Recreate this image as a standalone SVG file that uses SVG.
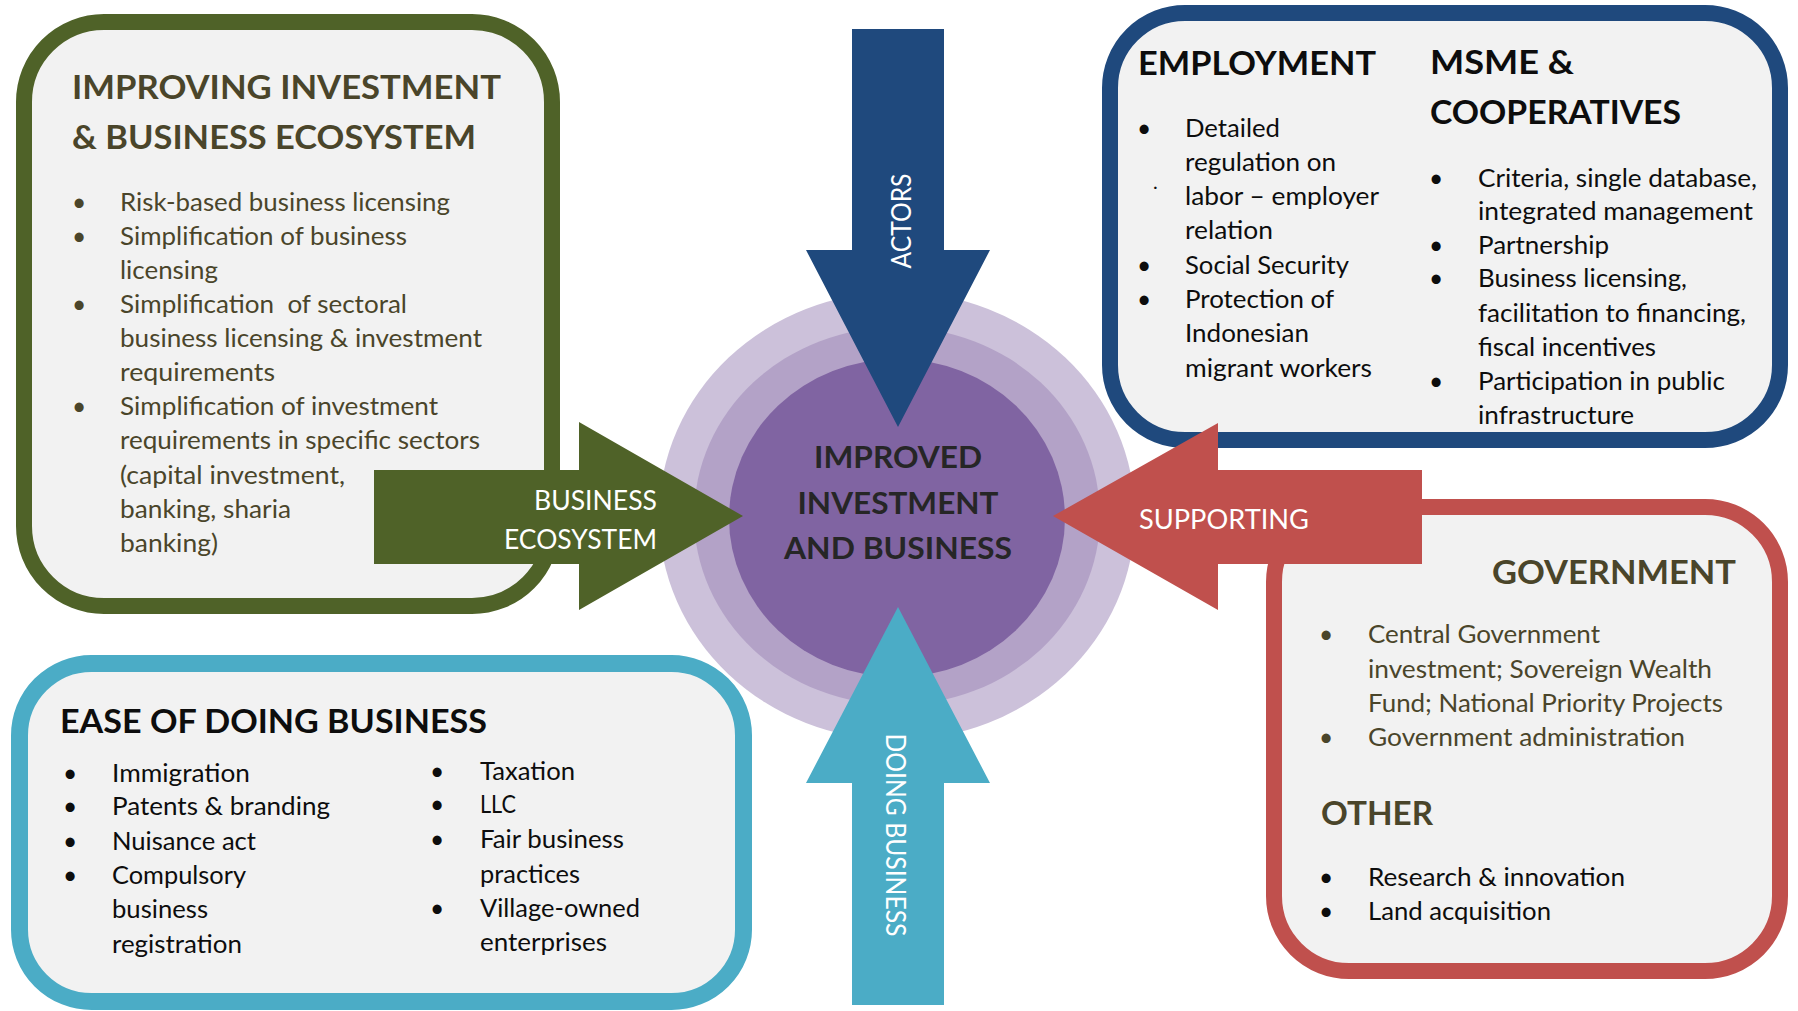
<svg xmlns="http://www.w3.org/2000/svg" width="1798" height="1011" viewBox="0 0 1798 1011">
<style>
text{font-family:Lato,"Open Sans","Liberation Sans",sans-serif}
.b{font-size:24.5px}
.h{font-size:33px;font-weight:700}
.ol{fill:#4A452A}
.bk{fill:#0D0D0D}
.w{fill:#FFFFFF;font-size:27px}
.box{fill:#F2F2F2}
.c{font-size:31px;font-weight:700;fill:#262626}
</style>
<g id="center">
<ellipse cx="897" cy="516" rx="238" ry="224" fill="#CCC1DA"/>
<ellipse cx="897" cy="516" rx="203" ry="189" fill="#B3A2C7"/>
<ellipse cx="897" cy="518" rx="168" ry="159" fill="#8064A2"/>
</g>
<g id="box-ecosystem">
<rect class="box" x="24" y="22" width="528" height="584" rx="80" stroke="#4F6228" stroke-width="16"/>
</g>
<g id="box-actors">
<rect class="box" x="1110" y="13" width="670" height="427" rx="75" stroke="#1F497D" stroke-width="16"/>
</g>
<g id="box-supporting">
<rect class="box" x="1274" y="507" width="506" height="464" rx="75" stroke="#C0504D" stroke-width="16"/>
</g>
<g id="box-doing">
<rect class="box" x="19.5" y="663.5" width="724" height="338" rx="72" stroke="#4BACC6" stroke-width="17"/>
</g>
<g id="connectors">
<polygon points="852,29 944,29 944,250 990,250 898,427 806,250 852,250" fill="#1F497D"/>
<polygon points="898,607 990,783 944,783 944,1005 852,1005 852,783 806,783" fill="#4BACC6"/>
<polygon points="374,470 579,470 579,422 743,516 579,610 579,564 374,564" fill="#4F6228"/>
<polygon points="1422,470 1218,470 1218,423 1053,516 1218,610 1218,564 1422,564" fill="#C0504D"/>
<text class="w" transform="translate(911,221) rotate(-90)" text-anchor="middle" textLength="95" lengthAdjust="spacingAndGlyphs">ACTORS</text>
<text class="w" transform="translate(886,835) rotate(90)" text-anchor="middle" textLength="203" lengthAdjust="spacingAndGlyphs">DOING BUSINESS</text>
<text class="w" x="534" y="510" textLength="123" lengthAdjust="spacingAndGlyphs">BUSINESS</text>
<text class="w" x="504" y="549" textLength="153" lengthAdjust="spacingAndGlyphs">ECOSYSTEM</text>
<text class="w" x="1139" y="529" textLength="170" lengthAdjust="spacingAndGlyphs">SUPPORTING</text>
</g>
<g id="center-label">
<text class="c" x="898" y="468" text-anchor="middle" textLength="168" lengthAdjust="spacingAndGlyphs">IMPROVED</text>
<text class="c" x="898" y="514" text-anchor="middle" textLength="201" lengthAdjust="spacingAndGlyphs">INVESTMENT</text>
<text class="c" x="898" y="559" text-anchor="middle" textLength="228" lengthAdjust="spacingAndGlyphs">AND BUSINESS</text>
</g>
<g id="text-ecosystem" class="ol">
<text class="h" x="72" y="99" textLength="429" lengthAdjust="spacingAndGlyphs">IMPROVING INVESTMENT</text>
<text class="h" x="72" y="149" textLength="404" lengthAdjust="spacingAndGlyphs">&amp; BUSINESS ECOSYSTEM</text>
<text class="b" x="72" y="211">•</text>
<text class="b" x="72" y="245">•</text>
<text class="b" x="72" y="313">•</text>
<text class="b" x="72" y="415">•</text>
<text class="b" x="120" y="211" textLength="330" lengthAdjust="spacingAndGlyphs">Risk-based business licensing</text>
<text class="b" x="120" y="245" textLength="287" lengthAdjust="spacingAndGlyphs">Simplification of business</text>
<text class="b" x="120" y="279" textLength="98" lengthAdjust="spacingAndGlyphs">licensing</text>
<text class="b" x="120" y="313" textLength="287" lengthAdjust="spacingAndGlyphs" xml:space="preserve">Simplification  of sectoral</text>
<text class="b" x="120" y="347" textLength="362" lengthAdjust="spacingAndGlyphs">business licensing &amp; investment</text>
<text class="b" x="120" y="381" textLength="155" lengthAdjust="spacingAndGlyphs">requirements</text>
<text class="b" x="120" y="415" textLength="318" lengthAdjust="spacingAndGlyphs">Simplification of investment</text>
<text class="b" x="120" y="449" textLength="360" lengthAdjust="spacingAndGlyphs">requirements in specific sectors</text>
<text class="b" x="120" y="484" textLength="225" lengthAdjust="spacingAndGlyphs">(capital investment,</text>
<text class="b" x="120" y="518" textLength="171" lengthAdjust="spacingAndGlyphs">banking, sharia</text>
<text class="b" x="120" y="552" textLength="98" lengthAdjust="spacingAndGlyphs">banking)</text>
</g>
<g id="text-actors" class="bk">
<text class="h" x="1138" y="75" textLength="238" lengthAdjust="spacingAndGlyphs">EMPLOYMENT</text>
<text class="h" x="1430" y="74" textLength="144" lengthAdjust="spacingAndGlyphs">MSME &amp;</text>
<text class="h" x="1430" y="124" textLength="251" lengthAdjust="spacingAndGlyphs">COOPERATIVES</text>
<text class="b" x="1137" y="137">•</text>
<text x="1153" y="189" style="font-size:20px">.</text>
<text class="b" x="1137" y="274">•</text>
<text class="b" x="1137" y="308">•</text>
<text class="b" x="1185" y="137" textLength="95" lengthAdjust="spacingAndGlyphs">Detailed</text>
<text class="b" x="1185" y="171" textLength="151" lengthAdjust="spacingAndGlyphs">regulation on</text>
<text class="b" x="1185" y="205" textLength="194" lengthAdjust="spacingAndGlyphs">labor – employer</text>
<text class="b" x="1185" y="239" textLength="88" lengthAdjust="spacingAndGlyphs">relation</text>
<text class="b" x="1185" y="274" textLength="164" lengthAdjust="spacingAndGlyphs">Social Security</text>
<text class="b" x="1185" y="308" textLength="149" lengthAdjust="spacingAndGlyphs">Protection of</text>
<text class="b" x="1185" y="342" textLength="124" lengthAdjust="spacingAndGlyphs">Indonesian</text>
<text class="b" x="1185" y="377" textLength="187" lengthAdjust="spacingAndGlyphs">migrant workers</text>
<text class="b" x="1429" y="187">•</text>
<text class="b" x="1429" y="254">•</text>
<text class="b" x="1429" y="287">•</text>
<text class="b" x="1429" y="390">•</text>
<text class="b" x="1478" y="187" textLength="279" lengthAdjust="spacingAndGlyphs">Criteria, single database,</text>
<text class="b" x="1478" y="220" textLength="275" lengthAdjust="spacingAndGlyphs">integrated management</text>
<text class="b" x="1478" y="254" textLength="131" lengthAdjust="spacingAndGlyphs">Partnership</text>
<text class="b" x="1478" y="287" textLength="209" lengthAdjust="spacingAndGlyphs">Business licensing,</text>
<text class="b" x="1478" y="322" textLength="268" lengthAdjust="spacingAndGlyphs">facilitation to financing,</text>
<text class="b" x="1478" y="356" textLength="178" lengthAdjust="spacingAndGlyphs">fiscal incentives</text>
<text class="b" x="1478" y="390" textLength="247" lengthAdjust="spacingAndGlyphs">Participation in public</text>
<text class="b" x="1478" y="424" textLength="156" lengthAdjust="spacingAndGlyphs">infrastructure</text>
</g>
<g id="text-doing" class="bk">
<text class="h" x="60" y="733" textLength="427" lengthAdjust="spacingAndGlyphs">EASE OF DOING BUSINESS</text>
<text class="b" x="63" y="782">•</text>
<text class="b" x="63" y="815">•</text>
<text class="b" x="63" y="850">•</text>
<text class="b" x="63" y="884">•</text>
<text class="b" x="112" y="782" textLength="138" lengthAdjust="spacingAndGlyphs">Immigration</text>
<text class="b" x="112" y="815" textLength="218" lengthAdjust="spacingAndGlyphs">Patents &amp; branding</text>
<text class="b" x="112" y="850" textLength="144" lengthAdjust="spacingAndGlyphs">Nuisance act</text>
<text class="b" x="112" y="884" textLength="134" lengthAdjust="spacingAndGlyphs">Compulsory</text>
<text class="b" x="112" y="918" textLength="96" lengthAdjust="spacingAndGlyphs">business</text>
<text class="b" x="112" y="953" textLength="130" lengthAdjust="spacingAndGlyphs">registration</text>
<text class="b" x="430" y="780">•</text>
<text class="b" x="430" y="813">•</text>
<text class="b" x="430" y="848">•</text>
<text class="b" x="430" y="917">•</text>
<text class="b" x="480" y="780" textLength="95" lengthAdjust="spacingAndGlyphs">Taxation</text>
<text class="b" x="480" y="813" textLength="36" lengthAdjust="spacingAndGlyphs">LLC</text>
<text class="b" x="480" y="848" textLength="144" lengthAdjust="spacingAndGlyphs">Fair business</text>
<text class="b" x="480" y="883" textLength="100" lengthAdjust="spacingAndGlyphs">practices</text>
<text class="b" x="480" y="917" textLength="160" lengthAdjust="spacingAndGlyphs">Village-owned</text>
<text class="b" x="480" y="951" textLength="127" lengthAdjust="spacingAndGlyphs">enterprises</text>
</g>
<g id="text-supporting">
<text class="h ol" x="1492" y="584" textLength="244" lengthAdjust="spacingAndGlyphs">GOVERNMENT</text>
<text class="b ol" x="1319" y="643">•</text>
<text class="b ol" x="1319" y="746">•</text>
<text class="b ol" x="1368" y="643" textLength="232" lengthAdjust="spacingAndGlyphs">Central Government</text>
<text class="b ol" x="1368" y="678" textLength="344" lengthAdjust="spacingAndGlyphs">investment; Sovereign Wealth</text>
<text class="b ol" x="1368" y="712" textLength="355" lengthAdjust="spacingAndGlyphs">Fund; National Priority Projects</text>
<text class="b ol" x="1368" y="746" textLength="317" lengthAdjust="spacingAndGlyphs">Government administration</text>
<text class="h ol" x="1321" y="825" textLength="112" lengthAdjust="spacingAndGlyphs">OTHER</text>
<text class="b bk" x="1319" y="886">•</text>
<text class="b bk" x="1319" y="920">•</text>
<text class="b bk" x="1368" y="886" textLength="257" lengthAdjust="spacingAndGlyphs">Research &amp; innovation</text>
<text class="b bk" x="1368" y="920" textLength="183" lengthAdjust="spacingAndGlyphs">Land acquisition</text>
</g>
</svg>
